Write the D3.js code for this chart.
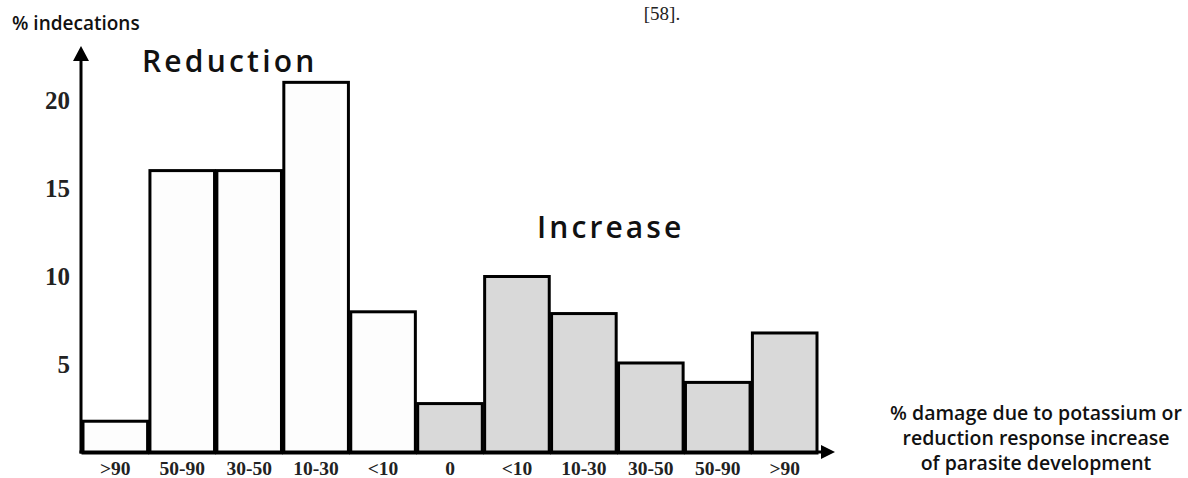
<!DOCTYPE html>
<html>
<head>
<meta charset="utf-8">
<script src="https://cdn.jsdelivr.net/npm/d3@7"></script>
<style>
  html, body { margin: 0; padding: 0; background: #fff; }
  svg { display: block; }
</style>
</head>
<body>
<svg id="chart" width="1188" height="478"></svg>
<script>
// ---- data ----
const categories = [">90", "50-90", "30-50", "10-30", "<10", "0", "<10", "10-30", "30-50", "50-90", ">90"];
const groups = ["reduction", "reduction", "reduction", "reduction", "reduction",
                "increase", "increase", "increase", "increase", "increase", "increase"];
const values = [1.8, 16, 16, 21, 8, 2.8, 10, 7.9, 5.1, 4, 6.8];
const yTicks = [5, 10, 15, 20];
const yAxisTitle = "% indecations";
const xAxisTitle = ["% damage due to potassium or", "reduction response increase", "of parasite development"];
const groupTitles = ["Reduction", "Increase"];
const citation = "[58].";

// ---- layout ----
const svg = d3.select("#chart");
const baseY = 452;
const axisX = 81;

const x = d3.scaleBand()
  .domain(d3.range(categories.length))
  .range([83, 817])
  .paddingInner(0.035)
  .paddingOuter(0);

const y = d3.scaleLinear().domain([0, 20]).range([453, 100]);

const fills = { reduction: "#fdfdfd", increase: "#d9d9d9" };

// bars
svg.append("g").selectAll("rect")
  .data(values)
  .join("rect")
  .attr("x", (d, i) => x(i))
  .attr("width", x.bandwidth())
  .attr("y", d => y(d))
  .attr("height", d => y(0) - y(d))
  .attr("fill", (d, i) => fills[groups[i]])
  .attr("stroke", "#000")
  .attr("stroke-width", 3);

// y axis ticks
const yAxis = d3.axisLeft(y).tickValues(yTicks).tickSize(0).tickPadding(11);
const gy = svg.append("g").attr("transform", `translate(${axisX},0)`).call(yAxis);
gy.select(".domain").remove();
gy.selectAll("text")
  .attr("font-family", "'Liberation Serif', 'DejaVu Serif', serif")
  .attr("font-weight", "bold")
  .attr("font-size", 25)
  .attr("fill", "#222");

// x axis labels
const xAxis = d3.axisBottom(x).tickFormat(i => categories[i]).tickSize(0);
const gx = svg.append("g").attr("transform", `translate(0,${baseY})`).call(xAxis);
gx.select(".domain").remove();
gx.selectAll("text")
  .attr("y", 23)
  .attr("dy", 0)
  .attr("font-family", "'Liberation Serif', 'DejaVu Serif', serif")
  .attr("font-weight", "bold")
  .attr("font-size", 19.5)
  .attr("fill", "#222");

// axes lines with arrows
svg.append("line")
  .attr("x1", axisX).attr("x2", axisX)
  .attr("y1", baseY + 1.5).attr("y2", 58)
  .attr("stroke", "#000").attr("stroke-width", 3);
svg.append("path")
  .attr("d", `M${axisX},46 L${axisX - 8},61 L${axisX + 8},61 Z`)
  .attr("fill", "#000");

svg.append("line")
  .attr("x1", axisX - 1.5).attr("x2", 824)
  .attr("y1", baseY).attr("y2", baseY)
  .attr("stroke", "#000").attr("stroke-width", 3);
svg.append("path")
  .attr("d", `M835,${baseY} L821,${baseY - 7} L821,${baseY + 7} Z`)
  .attr("fill", "#000");

// titles
const sans = "'Open Sans', 'Liberation Sans', sans-serif";
svg.append("text")
  .attr("x", 12).attr("y", 30)
  .attr("font-family", sans).attr("font-weight", 600).attr("font-size", 19)
  .attr("fill", "#111")
  .text(yAxisTitle);

svg.append("text")
  .attr("x", 142).attr("y", 72)
  .attr("font-family", sans).attr("font-weight", 600).attr("font-size", 30)
  .attr("letter-spacing", 3.2)
  .attr("fill", "#111")
  .text(groupTitles[0]);

svg.append("text")
  .attr("x", 537).attr("y", 238)
  .attr("font-family", sans).attr("font-weight", 600).attr("font-size", 30)
  .attr("letter-spacing", 3.1)
  .attr("fill", "#111")
  .text(groupTitles[1]);

svg.append("text")
  .attr("x", 662).attr("y", 20)
  .attr("text-anchor", "middle")
  .attr("font-family", "'Liberation Serif', serif").attr("font-size", 19)
  .attr("fill", "#222")
  .text(citation);

svg.append("g").selectAll("text")
  .data(xAxisTitle)
  .join("text")
  .attr("x", 1036)
  .attr("y", (d, i) => 420 + i * 25)
  .attr("text-anchor", "middle")
  .attr("font-family", sans).attr("font-weight", 600).attr("font-size", 19.5)
  .attr("fill", "#111")
  .text(d => d);
</script>
</body>
</html>
